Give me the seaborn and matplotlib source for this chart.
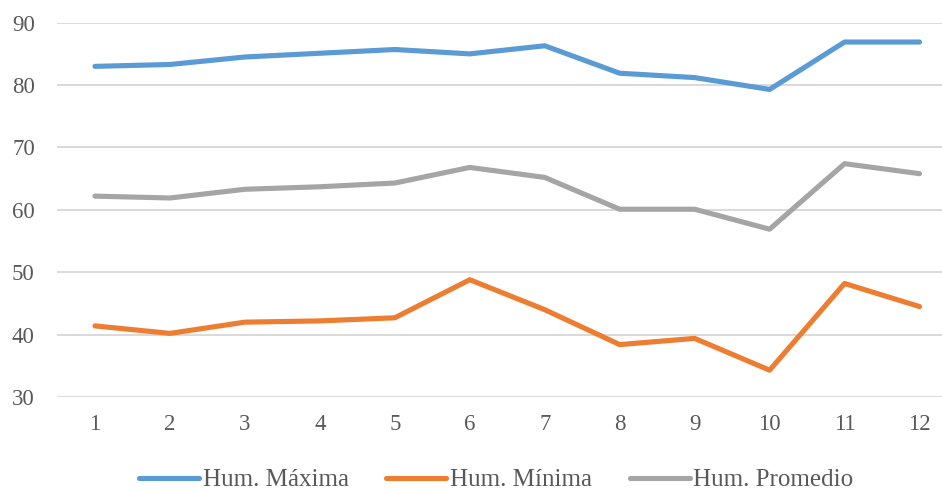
import matplotlib
matplotlib.use("Agg")
import matplotlib.pyplot as plt
import seaborn as sns
import pandas as pd

# Monthly relative humidity (%)
meses = [1, 2, 3, 4, 5, 6, 7, 8, 9, 10, 11, 12]
hum_maxima = [83.0, 83.3, 84.5, 85.1, 85.7, 85.0, 86.3, 81.9, 81.2, 79.3, 86.9, 86.9]
hum_minima = [41.4, 40.2, 42.0, 42.2, 42.7, 48.8, 44.0, 38.4, 39.4, 34.3, 48.2, 44.5]
hum_promedio = [62.2, 61.9, 63.3, 63.7, 64.3, 66.8, 65.2, 60.1, 60.1, 56.9, 67.4, 65.8]
series_names = ["Hum. Máxima", "Hum. Mínima", "Hum. Promedio"]
y_ticks = [30, 40, 50, 60, 70, 80, 90]

df = pd.DataFrame({
    "Mes": meses * 3,
    "Humedad": hum_maxima + hum_minima + hum_promedio,
    "Serie": [series_names[0]] * 12 + [series_names[1]] * 12 + [series_names[2]] * 12,
})

sns.set_theme(style="white")
plt.rcParams["font.family"] = ["Liberation Serif", "DejaVu Serif"]

fig = plt.figure(figsize=(9.42, 4.91), dpi=100)
ax = fig.add_axes([0.0605, 0.1914, 0.9395, 0.7624])

palette = {series_names[0]: "#5B9BD5", series_names[1]: "#ED7D31", series_names[2]: "#A5A5A5"}
sns.lineplot(data=df, x="Mes", y="Humedad", hue="Serie", palette=palette,
             linewidth=3.7, ax=ax, legend=True)

ax.set_xlim(0.493, 12.30)
ax.set_ylim(30, 90)
ax.set_xticks(meses)
ax.set_yticks(y_ticks)
ax.yaxis.grid(True, color="#D9D9D9", linewidth=1.4)
ax.xaxis.grid(False)
ax.set_axisbelow(True)
for s in ax.spines.values():
    s.set_visible(False)
ax.set_xlabel("")
ax.set_ylabel("")
ax.tick_params(axis="both", length=0, labelsize=16.5, colors="#595959")
ax.tick_params(axis="x", pad=12)
ax.tick_params(axis="y", pad=16)

handles, labels = ax.get_legend_handles_labels()
ax.get_legend().remove()
fig.legend(handles, labels, loc="center", bbox_to_anchor=(0.527, 0.022), ncol=3,
           frameon=False, fontsize=18, handlelength=2.4, handletextpad=0.15,
           columnspacing=1.5, labelcolor="#595959")

fig.savefig("out.png", dpi=100)
